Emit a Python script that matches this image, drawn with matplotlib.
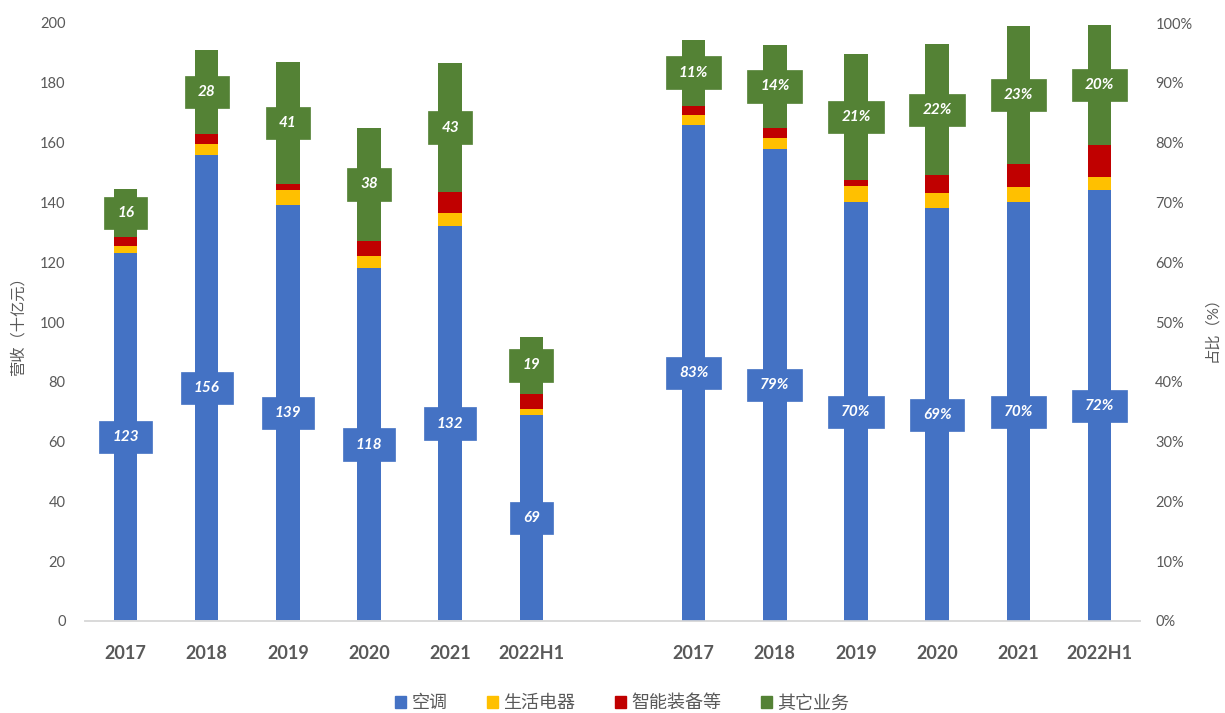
import matplotlib
matplotlib.use('Agg')
import matplotlib.pyplot as plt
from matplotlib.path import Path
from matplotlib.patches import Patch

plt.rcParams['font.family'] = ['Lato', 'Noto Sans CJK SC', 'DejaVu Sans']

years = ['2017', '2018', '2019', '2020', '2021', '2022H1']
series = ['空调', '生活电器', '智能装备等', '其它业务']
colors = ['#4472C4', '#FFC000', '#C00000', '#548235']

# Revenue (ten billion yuan)
rev_ac = [123, 156, 139, 118, 132, 69]
rev_home = [2.5, 3.5, 5, 4, 4.5, 2]
rev_smart = [3, 3.5, 2, 5, 7, 5]
rev_other = [16, 28, 41, 38, 43, 19]

# Share (%)
pct_ac = [83, 79, 70, 69, 70, 72]
pct_home = [1.6, 1.8, 2.8, 2.5, 2.5, 2.3]
pct_smart = [1.6, 1.6, 1.0, 3, 4, 5.3]
pct_other = [11, 14, 21, 22, 23, 20]

TXT = '#595959'


def label_box(x0, y0, width, height, mutation_size):
    px = 0.85 * mutation_size
    py = 0.6 * mutation_size
    x0, y0 = x0 - px, y0 - py
    x1, y1 = x0 + width + 2 * px, y0 + height + 2 * py
    return Path([(x0, y0), (x1, y0), (x1, y1), (x0, y1), (x0, y0)], closed=True)


fig = plt.figure(figsize=(12.25, 7.13), dpi=100)
ax = fig.add_axes([85 / 1225, 1 - 621 / 713, 1055 / 1225, 598 / 713])
ax2 = ax.twinx()

width = 0.29
xl = list(range(6))
xr = [i + 7 for i in range(6)]


def draw(axis, xs, groups, fmt):
    bottoms = [0.0] * len(xs)
    for vals, col in zip(groups, colors):
        axis.bar(xs, vals, width, bottom=bottoms, color=col, zorder=2)
        bottoms = [b + v for b, v in zip(bottoms, vals)]
    ac, home, smart, other = groups
    for i, x in enumerate(xs):
        y_ac = ac[i] / 2
        y_ot = ac[i] + home[i] + smart[i] + other[i] / 2
        for y, v, col in ((y_ac, ac[i], colors[0]), (y_ot, other[i], colors[3])):
            axis.text(x, y, fmt(v), ha='center', va='center', color='white',
                      fontsize=11, fontweight='bold', fontstyle='italic', zorder=5,
                      bbox=dict(boxstyle=label_box, facecolor=col, edgecolor=col, linewidth=0.5))


draw(ax, xl, [rev_ac, rev_home, rev_smart, rev_other], lambda v: f'{v:g}')
draw(ax2, xr, [pct_ac, pct_home, pct_smart, pct_other], lambda v: f'{v:g}%')

ax.set_xlim(-0.5, 12.5)
ax.set_ylim(0, 200)
ax2.set_ylim(0, 100)
ax.set_yticks(range(0, 201, 20))
ax2.set_yticks(range(0, 101, 10))
ax2.set_yticklabels([f'{v}%' for v in range(0, 101, 10)])
ax.set_xticks(xl + xr)
ax.set_xticklabels(years + years, fontweight='bold', fontsize=13, color=TXT)

for a in (ax, ax2):
    for s in ('top', 'left', 'right'):
        a.spines[s].set_visible(False)
    a.spines['bottom'].set_color('#D9D9D9')
    a.spines['bottom'].set_linewidth(1.2)
ax.tick_params(axis='x', length=0, pad=17)
ax.tick_params(axis='y', length=0, pad=14, labelsize=10.5, labelcolor=TXT)
ax2.tick_params(axis='y', length=0, pad=11, labelsize=10.5, labelcolor=TXT)

fig.text(18 / 1225, 1 - 323 / 713, '营收（十亿元）', rotation=90, ha='center', va='center',
         fontsize=11, color=TXT)
fig.text(1212 / 1225, 1 - 325 / 713, '占比（%）', rotation=90, ha='center', va='center',
         fontsize=11, color=TXT)

handles = [Patch(facecolor=c, edgecolor=c) for c in colors]
fig.legend(handles, series, loc='center', bbox_to_anchor=(0.508, 1 - 703 / 713), ncol=4,
           frameon=False, fontsize=13, labelcolor=TXT, handlelength=0.6, handleheight=0.6,
           handletextpad=0.3, columnspacing=2.2)

fig.savefig('out.png', dpi=100)
